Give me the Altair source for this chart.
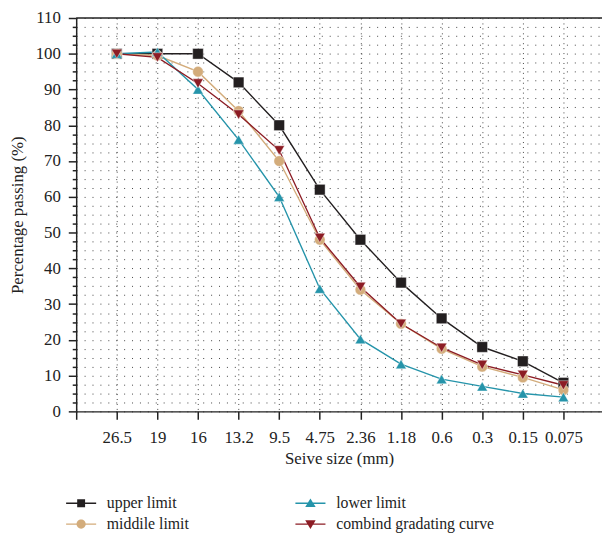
import altair as alt
import pandas as pd

sieve = ["26.5", "19", "16", "13.2", "9.5", "4.75", "2.36", "1.18", "0.6", "0.3", "0.15", "0.075"]
upper = [100, 100, 100, 92, 80, 62, 48, 36, 26, 18, 14, 8]
middle = [100, 99.5, 95, 84, 70, 48, 34, 24.5, 17.5, 12.5, 9.5, 6]
lower = [100, 100.5, 90, 76, 60, 34.3, 20.2, 13.2, 9, 7, 5, 4]
combined = [100, 99, 91.7, 83, 73, 48.5, 34.8, 24.5, 17.8, 13, 10.2, 7.3]

series_names = ["upper limit", "middile limit", "lower limit", "combind gradating curve"]
series_vals = [upper, middle, lower, combined]
colors = {"upper limit": "#231f20", "middile limit": "#d3ac7b",
          "lower limit": "#2594aa", "combind gradating curve": "#8c1c24"}
shapes = {"upper limit": "square", "middile limit": "circle",
          "lower limit": "triangle-up", "combind gradating curve": "triangle-down"}

rows = []
for name, vals in zip(series_names, series_vals):
    for i, v in enumerate(vals):
        rows.append({"series": name, "pos": i + 1, "sieve": sieve[i], "value": v})
df = pd.DataFrame(rows)

# legend is filled column by column (2 columns)
dom = ["upper limit", "middile limit", "lower limit", "combind gradating curve"]
rng = [colors[s] for s in dom]
shp = [shapes[s] for s in dom]

LINE = "M-1.9,-0.085H1.9V0.085H-1.9Z"
leg_paths = {
    "upper limit": LINE + "M-0.5,-0.5H0.5V0.5H-0.5Z",
    "middile limit": LINE + "M0.58,0A0.58,0.58 0 1,1 -0.58,0A0.58,0.58 0 1,1 0.58,0Z",
    "lower limit": LINE + "M0,-0.62L0.66,0.48L-0.66,0.48Z",
    "combind gradating curve": LINE + "M-0.66,-0.48L0.66,-0.48L0,0.62Z",
}

W, H = 532, 398
FONT = "Liberation Serif"
labels_js = "[" + ",".join(["''"] + ["'%s'" % s for s in sieve] + ["''"]) + "]"

x_axis = alt.Axis(values=list(range(0, 13)), labelExpr=labels_js + "[datum.value]",
                  labelOverlap=False,
                  title="Seive size (mm)", grid=True, gridDash=[1, 4],
                  gridColor="#444", gridWidth=1, tickSize=8, tickColor="#222",
                  tickWidth=1.5, labelPadding=11, titlePadding=5,
                  domainColor="#222", domainWidth=1.5)
y_vals = [i * 2.5 for i in range(0, 45)]
y_axis = alt.Axis(values=y_vals, labelExpr="datum.value % 10 == 0 ? datum.label : ''",
                  labelOverlap=False,
                  title="Percentage passing (%)", grid=True, gridDash=[1, 7],
                  gridColor="#444", gridWidth=1,
                  tickSize={"condition": {"test": "datum.value % 10 == 0", "value": 8}, "value": 4},
                  tickColor="#222", tickWidth=1.5, labelPadding=8, titlePadding=9,
                  domainColor="#222", domainWidth=1.5)
x_scale = alt.Scale(domain=[0, 12.95], nice=False, zero=False)
y_scale = alt.Scale(domain=[0, 110], nice=False)

def xe():
    return alt.X("pos:Q", scale=x_scale, axis=x_axis)

def ye():
    return alt.Y("value:Q", scale=y_scale, axis=y_axis)

legend_kw = dict(title=None, orient="none", legendX=-3, legendY=483,
                 columns=2, columnPadding=106, rowPadding=5,
                 symbolSize=256, symbolOpacity=1, symbolStrokeWidth=0,
                 labelOffset=18, labelFont=FONT, labelFontSize=16,
                 labelColor="#222", padding=0)

base = alt.Chart(df)
lines = base.mark_line(strokeWidth=1.4).encode(
    x=xe(), y=ye(),
    color=alt.Color("series:N", scale=alt.Scale(domain=dom, range=rng), legend=None),
    detail="series:N",
)
points = base.mark_point(filled=True, opacity=1, size=115, stroke="white", strokeWidth=0.4).encode(
    x=xe(), y=ye(),
    color=alt.Color("series:N", scale=alt.Scale(domain=dom, range=rng), legend=None),
    shape=alt.Shape("series:N", scale=alt.Scale(domain=dom, range=shp), legend=None),
)
legend_layer = base.mark_point(filled=True, opacity=0).encode(
    x=xe(), y=ye(),
    color=alt.Color("series:N", scale=alt.Scale(domain=dom, range=rng),
                    legend=alt.Legend(**legend_kw)),
    shape=alt.Shape("series:N", scale=alt.Scale(domain=dom, range=[leg_paths[s] for s in dom]),
                    legend=alt.Legend(**legend_kw)),
)
top_border = alt.Chart(pd.DataFrame({"k": [0]})).mark_rule(color="#222", strokeWidth=1.5).encode(
    x=alt.value(0), x2=alt.value(W), y=alt.value(0)
)

chart = alt.layer(lines, points, legend_layer, top_border).resolve_scale(
    color="independent", shape="independent"
).properties(
    width=W, height=H,
    background="white",
    autosize=alt.AutoSizeParams(type="none"),
    padding={"left": 69, "top": 7, "right": 0, "bottom": 126},
).configure_axis(
    labelFont=FONT, labelFontSize=17, labelColor="#222",
    titleFont=FONT, titleFontSize=17, titleColor="#222", titleFontWeight="normal",
    labelOverlap=False,
).configure_axisY(labelOverlap=False).configure_view(stroke=None)

chart.save("out.html", embed_options={"renderer": "svg", "actions": False})
